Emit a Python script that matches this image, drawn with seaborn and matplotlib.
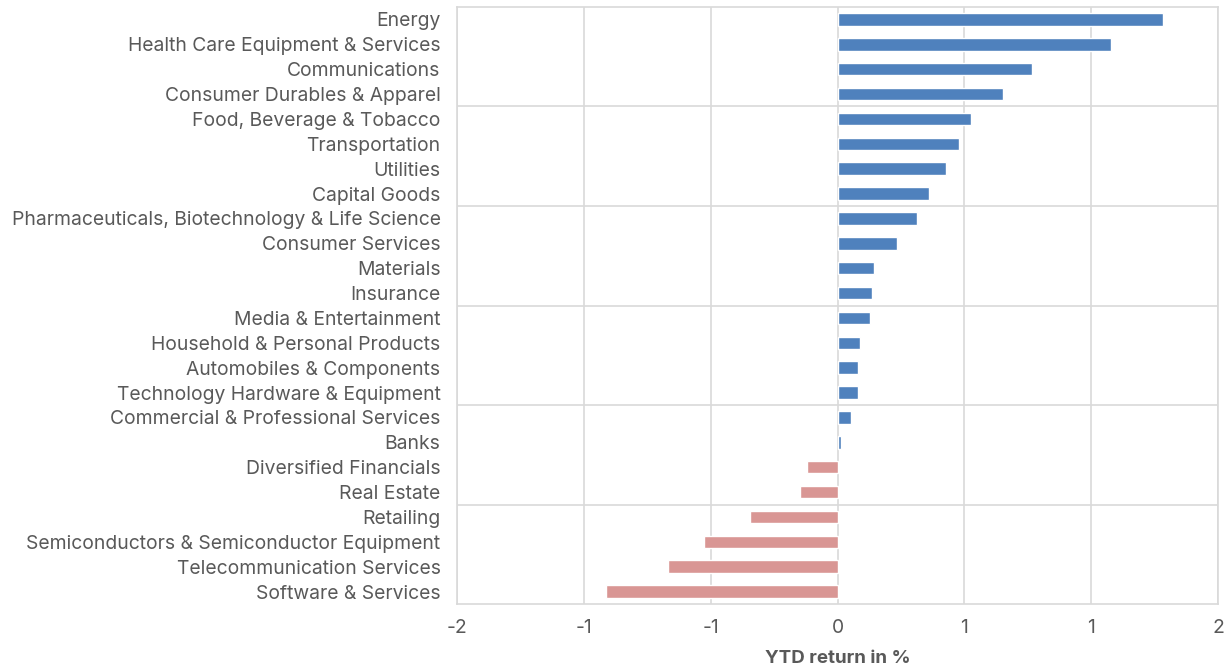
import pandas as pd
import seaborn as sns
import matplotlib.pyplot as plt
from matplotlib.ticker import FixedLocator

# industry groups, top to bottom as in the chart
sectors = ['Energy', 'Health Care Equipment & Services', 'Communications',
           'Consumer Durables & Apparel', 'Food, Beverage & Tobacco', 'Transportation',
           'Utilities', 'Capital Goods', 'Pharmaceuticals, Biotechnology & Life Science',
           'Consumer Services', 'Materials', 'Insurance', 'Media & Entertainment',
           'Household & Personal Products', 'Automobiles & Components',
           'Technology Hardware & Equipment', 'Commercial & Professional Services',
           'Banks', 'Diversified Financials', 'Real Estate', 'Retailing',
           'Semiconductors & Semiconductor Equipment', 'Telecommunication Services',
           'Software & Services']
ytd_return = [1.71, 1.44, 1.02, 0.87, 0.70, 0.64, 0.57, 0.48, 0.42, 0.31, 0.19, 0.18,
              0.17, 0.12, 0.11, 0.105, 0.07, 0.02, -0.16, -0.20, -0.46, -0.70, -0.89, -1.22]
x_ticks = [-2, -4 / 3, -2 / 3, 0, 2 / 3, 4 / 3, 2]

df = pd.DataFrame({'sector': sectors, 'ret': ytd_return})
df['sign'] = ['pos' if v >= 0 else 'neg' for v in df['ret']]

sns.set_style('white')
plt.rcParams['font.family'] = ['Inter', 'DejaVu Sans']

fig = plt.figure(figsize=(12.29, 6.71), dpi=100)
ax = fig.add_axes([0.372, 0.0998, 0.619, 0.8898])

sns.barplot(data=df, x='ret', y='sector', hue='sign', orient='h',
            palette={'pos': '#4f81bd', 'neg': '#d99694'}, dodge=False, saturation=1,
            width=0.5, legend=False, ax=ax, zorder=3)

ax.set_xlim(-2, 2)
ax.set_ylim(len(sectors) - 0.5, -0.5)
ax.set_xticks(x_ticks)
ax.set_xticklabels(['%.0f' % t for t in x_ticks])

# horizontal lines every four categories, like the original chart
ax.yaxis.set_minor_locator(FixedLocator([3.5, 7.5, 11.5, 15.5, 19.5]))
ax.grid(axis='x', which='major', color='#d9d9d9', lw=1.2, zorder=0)
ax.grid(axis='y', which='minor', color='#d9d9d9', lw=1.2, zorder=0)
ax.grid(axis='y', which='major', visible=False)
ax.tick_params(axis='both', which='both', length=0, labelsize=13.9, labelcolor='#595959')
ax.tick_params(axis='x', pad=11)
ax.tick_params(axis='y', pad=12)

for s in ax.spines.values():
    s.set_color('#d9d9d9')
    s.set_linewidth(1.2)

ax.set_ylabel('')
ax.set_xlabel('YTD return in %', fontsize=13.5, fontweight='bold', color='#595959', labelpad=9)

fig.savefig('out.png', dpi=100)
